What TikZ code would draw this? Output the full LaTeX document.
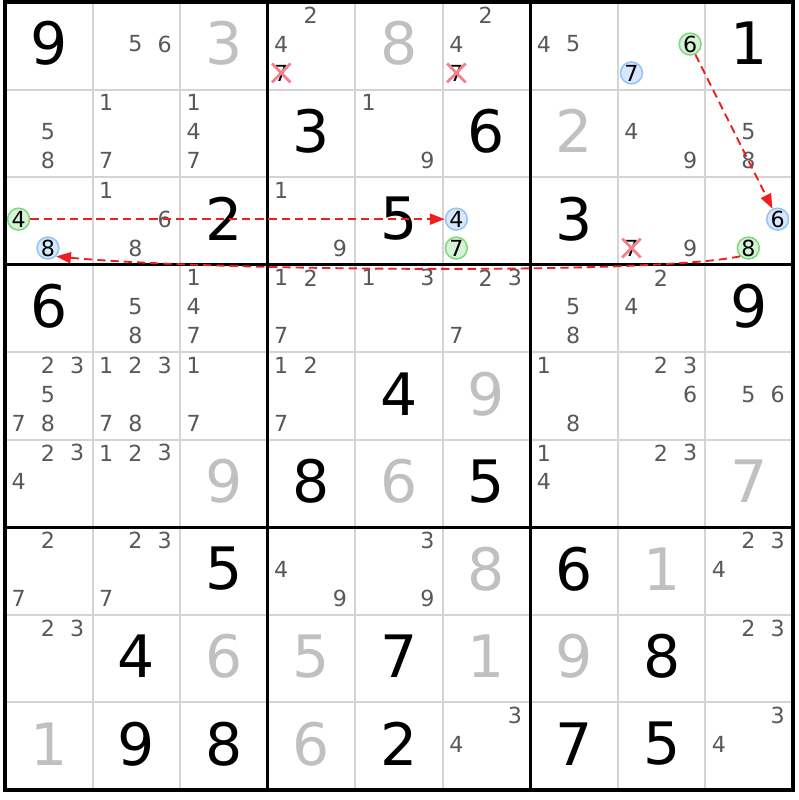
\documentclass[tikz,border=0pt]{standalone}
\usepackage{fontspec}
\setmainfont{DejaVu Sans}
\usepackage{tikz}
\usetikzlibrary{arrows.meta}
\usetikzlibrary{shapes.misc}

\definecolor{thingray}{RGB}{212,212,212}
\definecolor{solvedgray}{RGB}{192,192,192}
\definecolor{candgray}{RGB}{88,88,88}
\definecolor{ongreenfill}{RGB}{212,244,212}
\definecolor{ongreenline}{RGB}{130,214,130}
\definecolor{offbluefill}{RGB}{214,232,255}
\definecolor{offblueline}{RGB}{150,196,242}
\definecolor{crossred}{RGB}{244,128,140}
\definecolor{linkred}{RGB}{240,30,30}

\begin{document}
\begin{tikzpicture}[
	given/.style = {font=\fontsize{19}{19}\selectfont, text=black, inner sep=0pt},
	solved/.style = {given, text=solvedgray},
	cand/.style = {font=\fontsize{7.2}{7.2}\selectfont, text=candgray, inner sep=0pt},
	oncand/.style = {cand, text=black, circle, draw=ongreenline, fill=ongreenfill, line width=0.5pt, minimum size=0.25cm},
	offcand/.style = {oncand, draw=offblueline, fill=offbluefill},
	struck/.style = {cand, text=black, cross out, draw=crossred, line width=0.9pt, minimum size=0.18cm},
	link/.style = {linkred, line width=0.6pt, dash pattern=on 2.7pt off 1.6pt, -{Triangle[length=4.8pt,width=3.6pt]}}
]
\useasboundingbox (-0.057,0.023) rectangle (9.068,-9.114);

\foreach \i in {1,2,4,5,7,8} {
	\draw[thingray, line width=0.65pt] (\i,0) -- (\i,-9);
	\draw[thingray, line width=0.65pt] (0,-\i) -- (9,-\i);
}
\foreach \i in {3,6} {
	\draw[black, line width=1pt] (\i,0) -- (\i,-9);
	\draw[black, line width=1pt] (0,-\i) -- (9,-\i);
}
\draw[black, line width=1.2pt] (0,0) rectangle (9,-9);

% givens
\foreach \r/\c/\v in {1/1/9, 1/9/1, 2/4/3, 2/6/6, 3/3/2, 3/5/5, 3/7/3, 4/1/6, 4/9/9,
	5/5/4, 6/4/8, 6/6/5, 7/3/5, 7/7/6, 8/2/4, 8/5/7, 8/8/8,
	9/2/9, 9/3/8, 9/5/2, 9/7/7, 9/8/5}
	\node[given] (v\r\c) at (\c-0.5,-\r+0.525) {\v};

% solved
\foreach \r/\c/\v in {1/3/3, 1/5/8, 2/7/2, 5/6/9, 6/3/9, 6/5/6, 6/9/7, 7/6/8, 7/8/1,
	8/3/6, 8/4/5, 8/6/1, 8/7/9, 9/1/1, 9/4/6}
	\node[solved] (v\r\c) at (\c-0.5,-\r+0.525) {\v};

% candidates
\foreach \r/\c/\ds in {1/2/{5,6}, 1/4/{2,4}, 1/6/{2,4}, 1/7/{4,5},
	2/1/{5,8}, 2/2/{1,7}, 2/3/{1,4,7}, 2/5/{1,9}, 2/8/{4,9}, 2/9/{5,8},
	3/2/{1,6,8}, 3/4/{1,9}, 3/8/{9},
	4/2/{5,8}, 4/3/{1,4,7}, 4/4/{1,2,7}, 4/5/{1,3}, 4/6/{2,3,7}, 4/7/{5,8}, 4/8/{2,4},
	5/1/{2,3,5,7,8}, 5/2/{1,2,3,7,8}, 5/3/{1,7}, 5/4/{1,2,7}, 5/7/{1,8}, 5/8/{2,3,6}, 5/9/{5,6},
	6/1/{2,3,4}, 6/2/{1,2,3}, 6/7/{1,4}, 6/8/{2,3},
	7/1/{2,7}, 7/2/{2,3,7}, 7/4/{4,9}, 7/5/{3,9}, 7/9/{2,3,4},
	8/1/{2,3}, 8/9/{2,3}, 9/6/{3,4}, 9/9/{3,4}}
	\foreach \d in \ds {
		\pgfmathsetmacro\kx{\c-1+0.155+0.335*mod(\d-1,3)}
		\pgfmathsetmacro\ky{-\r+1-0.15-0.33*floor((\d-1)/3)}
		\node[cand] (k\r\c\d) at (\kx,\ky) {\d};
	}

\node[struck] (x14) at (3.155,-0.81) {7};
\node[struck] (x16) at (5.155,-0.81) {7};
\node[struck] (x38) at (7.155,-2.81) {7};

\node[oncand] (g4) at (0.155,-2.48) {4};
\node[offcand] (b4) at (5.155,-2.48) {4};
\node[oncand] (g6) at (7.825,-0.48) {6};
\node[offcand] (b6) at (8.825,-2.48) {6};
\node[oncand] (g8) at (8.49,-2.81) {8};
\node[offcand] (b8) at (0.49,-2.81) {8};
\node[oncand] (g7) at (5.155,-2.81) {7};
\node[offcand] (b7) at (7.155,-0.81) {7};

\draw[link] (g4) -- (b4);
\draw[link] (g6) -- (b6);
\draw[link] (g8.south west) .. controls +(-1.04,-0.217) and +(1.64,-0.16) .. (b8.south east);
\end{tikzpicture}
\end{document}
